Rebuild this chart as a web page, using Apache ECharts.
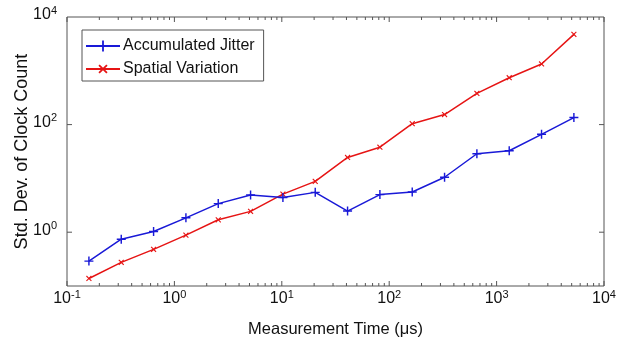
<!DOCTYPE html>
<html>
<head>
<meta charset="utf-8">
<script src="https://cdn.jsdelivr.net/npm/echarts@6/dist/echarts.min.js"></script>
<style>
html,body{margin:0;padding:0;background:#fff;}
#chart{width:630px;height:339px;}
</style>
</head>
<body>
<div id="chart"></div>
<script>
// ---- data ----
const timeUs = [0.16, 0.32, 0.64, 1.28, 2.56, 5.12, 10.24, 20.48, 40.96, 81.92, 163.84, 327.68, 655.36, 1310.72, 2621.44, 5242.88];
const accumulatedJitter = [0.29, 0.74, 1.03, 1.85, 3.4, 4.9, 4.4, 5.5, 2.47, 5.0, 5.6, 10.5, 28.7, 32.7, 66, 135];
const spatialVariation = [0.138, 0.275, 0.48, 0.88, 1.7, 2.44, 5.1, 8.8, 24.5, 38, 104, 154, 380, 743, 1340, 4760];
const seriesNames = ['Accumulated Jitter', 'Spatial Variation'];
const xMajorTicks = [0.1, 1, 10, 100, 1000, 10000];
const yMajorTicks = [1, 100];
const xMin = 0.1, xMax = 10000, yMin = 0.1, yMax = 10000;

const FONT = '"Liberation Sans", Arial, sans-serif';
const AXIS_COLOR = '#555';
const TEXT_COLOR = '#111';

const xMinorTicks = [];
for (let d = 0; d < xMajorTicks.length - 1; d++) {
  for (let k = 2; k <= 9; k++) xMinorTicks.push(xMajorTicks[d] * k);
}

function powLabel(v, skipOdd) {
  const e = Math.round(Math.log10(v));
  if (skipOdd && Math.abs(e) % 2 === 1) return '';
  return '{b|10}{s|' + e + '}';
}
const rich = {
  b: {fontSize: 16, lineHeight: 18, padding: [6, 0, 0, 0], fontFamily: FONT, color: TEXT_COLOR, verticalAlign: 'bottom'},
  s: {fontSize: 11, lineHeight: 11, fontFamily: FONT, color: TEXT_COLOR, verticalAlign: 'top'}
};

const PLUS = 'path://M4.2,0H5.8V4.2H10V5.8H5.8V10H4.2V5.8H0V4.2H4.2Z';

const chart = echarts.init(document.getElementById('chart'), null, {renderer: 'canvas'});
chart.setOption({
  animation: false,
  backgroundColor: '#fff',
  grid: {left: 67, right: 26, top: 17, bottom: 53, show: true, borderColor: AXIS_COLOR, borderWidth: 1, backgroundColor: '#fff', containLabel: false, outerBoundsMode: 'none'},
  legend: {
    data: seriesNames,
    orient: 'vertical',
    left: 82, top: 30,
    padding: [8, 9, 4, 3],
    itemWidth: 34, itemHeight: 14, itemGap: 7,
    borderColor: AXIS_COLOR, borderWidth: 1, backgroundColor: '#fff',
    textStyle: {fontSize: 16, color: TEXT_COLOR, fontFamily: FONT, padding: [0, 0, 0, -2]}
  },
  xAxis: {
    type: 'log', logBase: 10, min: xMin, max: xMax,
    axisLine: {show: false}, axisTick: {show: false}, splitLine: {show: false},
    axisLabel: {margin: 3, formatter: v => powLabel(v, false), rich: rich},
    name: 'Measurement Time (μs)', nameLocation: 'middle', nameGap: 35, nameMoveOverlap: false,
    nameTextStyle: {fontSize: 16.5, color: TEXT_COLOR, fontFamily: FONT}
  },
  yAxis: {
    type: 'log', logBase: 10, min: yMin, max: yMax,
    axisLine: {show: false}, axisTick: {show: false}, splitLine: {show: false},
    axisLabel: {margin: 10, padding: [0, 0, 6, 0], formatter: v => powLabel(v, true), rich: rich},
    name: 'Std. Dev. of Clock Count', nameLocation: 'middle', nameGap: 36, nameMoveOverlap: false,
    nameTextStyle: {fontSize: 18, color: TEXT_COLOR, fontFamily: FONT}
  },
  series: [
    {
      name: seriesNames[0], type: 'line',
      data: timeUs.map((x, i) => [x, accumulatedJitter[i]]),
      symbol: PLUS, symbolSize: 9, showSymbol: true,
      lineStyle: {color: 'rgb(25,25,215)', width: 1.5},
      itemStyle: {color: 'rgb(25,25,215)'},
      z: 3
    },
    {
      name: seriesNames[1], type: 'line',
      data: timeUs.map((x, i) => [x, spatialVariation[i]]),
      symbol: PLUS, symbolSize: 7, symbolRotate: 45, showSymbol: true,
      lineStyle: {color: 'rgb(230,20,20)', width: 1.5},
      itemStyle: {color: 'rgb(230,20,20)'},
      z: 2
    },
    {
      type: 'custom', silent: true, z: 5, clip: false,
      data: [[1, 1]],
      renderItem: function (params, api) {
        const children = [];
        const push = (p1, p2) => children.push({
          type: 'line',
          shape: {x1: p1[0], y1: p1[1], x2: p2[0], y2: p2[1]},
          style: {stroke: AXIS_COLOR, lineWidth: 1}
        });
        xMajorTicks.forEach(v => {
          const b = api.coord([v, yMin]), t = api.coord([v, yMax]);
          push(b, [b[0], b[1] - 5]); push(t, [t[0], t[1] + 5]);
        });
        xMinorTicks.forEach(v => {
          const b = api.coord([v, yMin]), t = api.coord([v, yMax]);
          push(b, [b[0], b[1] - 3]); push(t, [t[0], t[1] + 3]);
        });
        yMajorTicks.forEach(v => {
          const l = api.coord([xMin, v]), r = api.coord([xMax, v]);
          push(l, [l[0] + 5, l[1]]); push(r, [r[0] - 5, r[1]]);
        });
        return {type: 'group', children: children};
      }
    }
  ]
});
</script>
</body>
</html>
